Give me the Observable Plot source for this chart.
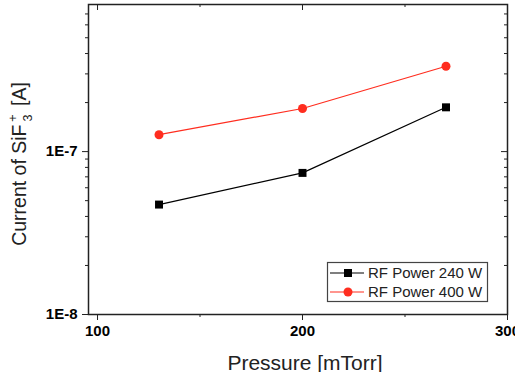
<!DOCTYPE html>
<html>
<head>
<meta charset="utf-8">
<script src="https://cdn.jsdelivr.net/npm/d3@7"></script>
<script src="https://cdn.jsdelivr.net/npm/@observablehq/plot@0.6"></script>
<style>
  html, body { margin: 0; padding: 0; background: #fff; }
  #chart { position: relative; width: 515px; height: 372px; }
  svg { font-family: "Liberation Sans", Arial, sans-serif; }
</style>
</head>
<body>
<div id="chart"></div>
<script>
// ---- data ----
const pressure = [130, 200, 270];
const current240 = [4.73e-8, 7.4e-8, 1.87e-7];
const current400 = [1.27e-7, 1.84e-7, 3.34e-7];
const seriesNames = ["RF Power 240 W", "RF Power 400 W"];
const seriesColors = ["#000000", "#ff2d1f"];
const xTicks = [100, 200, 300];
const xMinorTicks = [150, 250];
const yTicks = [1e-8, 1e-7];
const yTickLabels = ["1E-8", "1E-7"];
const yMinorTicks = [2e-8, 3e-8, 4e-8, 5e-8, 6e-8, 7e-8, 8e-8, 9e-8, 2e-7, 3e-7, 4e-7, 5e-7, 6e-7, 7e-7];
const xLabel = "Pressure [mTorr]";
const yLabel = "Current of SiF3+ [A]";

const data240 = pressure.map((p, i) => ({p, c: current240[i]}));
const data400 = pressure.map((p, i) => ({p, c: current400[i]}));

const W = 515, H = 372;
const mL = 88, mR = 8, mT = 4, mB = 58;
const plotW = W - mL - mR, plotH = H - mT - mB;

const plot = Plot.plot({
  width: W, height: H,
  marginLeft: mL, marginRight: mR, marginTop: mT, marginBottom: mB,
  style: {fontFamily: "Liberation Sans, Arial, sans-serif", fontSize: "15px", background: "#fff"},
  x: {domain: [95.6, 300]},
  y: {type: "log", domain: [1e-8, 8e-7]},
  marks: [
    Plot.axisX(xTicks, {tickSize: 6, tickPadding: 5, tickFormat: d => String(d), fontWeight: "bold", fontSize: 15, label: null, stroke: "#222"}),
    Plot.axisX(xMinorTicks, {tickSize: 3, tickFormat: () => "", label: null, stroke: "#222"}),
    Plot.axisY(yTicks, {tickSize: 6, tickPadding: 5, tickFormat: d => yTickLabels[yTicks.indexOf(d)], fontWeight: "bold", fontSize: 15, label: null, stroke: "#222"}),
    Plot.axisY(yMinorTicks, {tickSize: 3, tickFormat: () => "", label: null, stroke: "#222"}),
    Plot.tickX(xTicks, {x: d => d, insetBottom: plotH - 6, stroke: "#222"}),
    Plot.tickX(xMinorTicks, {x: d => d, insetBottom: plotH - 3, stroke: "#222"}),
    Plot.tickY(yTicks, {y: d => d, insetLeft: plotW - 6, stroke: "#222"}),
    Plot.tickY(yMinorTicks, {y: d => d, insetLeft: plotW - 3, stroke: "#222"}),
    Plot.frame({stroke: "#222", strokeWidth: 1.5}),
    Plot.line(data240, {x: "p", y: "c", stroke: seriesColors[0], strokeWidth: 1.2}),
    Plot.dot(data240, {x: "p", y: "c", symbol: "square", r: 4.5, fill: seriesColors[0], stroke: "none"}),
    Plot.line(data400, {x: "p", y: "c", stroke: seriesColors[1], strokeWidth: 1.2}),
    Plot.dot(data400, {x: "p", y: "c", symbol: "circle", r: 4.5, fill: seriesColors[1], stroke: "none"}),
    Plot.text([xLabel], {frameAnchor: "bottom", dx: 7, dy: 55.5, fontSize: 21, fill: "#222", text: d => d}),
    Plot.text([yLabel], {frameAnchor: "left", rotate: -90, dx: -69, dy: 4.5, fontSize: 19.5, fill: "#222", text: d => d})
  ]
});

document.getElementById("chart").appendChild(plot);

// Sub/superscript formatting for y label, centred manually
const svg = d3.select(plot);
svg.selectAll("text").each(function () {
  const t = d3.select(this);
  if (t.text() === yLabel) {
    t.text(null).attr("text-anchor", "start").attr("x", 0);
    t.append("tspan").text("Current of SiF");
    t.append("tspan").attr("font-size", 12.5).attr("dx", 3).attr("dy", 6).text("3");
    t.append("tspan").attr("font-size", 12.5).attr("dx", -7.2).attr("dy", -15).text("+");
    t.append("tspan").attr("dx", 3).attr("dy", 9).text(" [A]");
    const bb = this.getBBox();
    t.attr("x", -bb.width / 2);
  }
});

// Legend (pixel layout)
const lg = svg.append("g").attr("font-family", "Liberation Sans, Arial, sans-serif").attr("text-anchor", "start");
lg.append("rect").attr("x", 327.5).attr("y", 262.5).attr("width", 160).attr("height", 39)
  .attr("fill", "#fff").attr("stroke", "#444").attr("stroke-width", 1.2);
seriesNames.forEach((name, i) => {
  const cy = 273 + i * 19;
  lg.append("line").attr("x1", 330).attr("x2", 364).attr("y1", cy).attr("y2", cy)
    .attr("stroke", seriesColors[i]).attr("stroke-width", 1.2);
  if (i === 0) {
    lg.append("rect").attr("x", 344).attr("y", cy - 4).attr("width", 8).attr("height", 8).attr("fill", seriesColors[i]);
  } else {
    lg.append("circle").attr("cx", 348).attr("cy", cy).attr("r", 4.5).attr("fill", seriesColors[i]);
  }
  lg.append("text").attr("x", 368).attr("y", cy + 5).attr("font-size", 15).attr("fill", "#222")
    .attr("text-anchor", "start").text(name);
});
</script>
</body>
</html>
